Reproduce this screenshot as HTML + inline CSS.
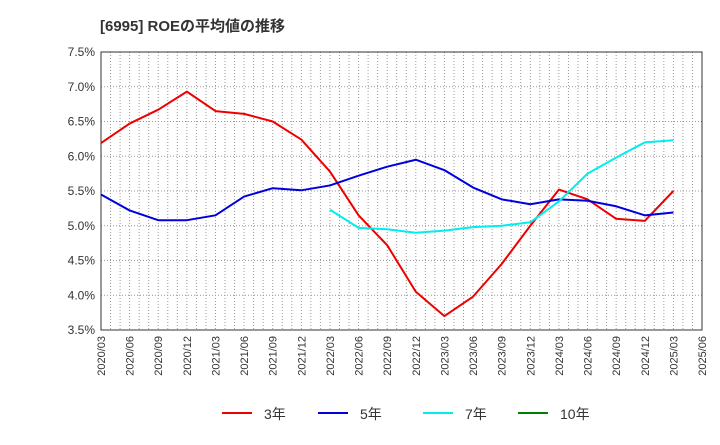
<!DOCTYPE html>
<html><head><meta charset="utf-8"><style>
body{margin:0;background:#fff;font-family:"Liberation Sans","Noto Sans CJK JP",sans-serif;}
</style></head><body>
<svg width="720" height="440" xmlns="http://www.w3.org/2000/svg" id="c" font-family="Liberation Sans, Noto Sans CJK JP, sans-serif">
<text x="100" y="31" font-size="15" font-weight="bold" fill="#333">[6995]  ROEの平均値の推移</text>
<g id="grid"></g><g id="axes"></g><g id="series"></g><g id="legend"></g>
</svg>
<script>
const xLabels=["2020/03","2020/06","2020/09","2020/12","2021/03","2021/06","2021/09","2021/12","2022/03","2022/06","2022/09","2022/12","2023/03","2023/06","2023/09","2023/12","2024/03","2024/06","2024/09","2024/12","2025/03","2025/06"];
const yTicks=[3.5,4.0,4.5,5.0,5.5,6.0,6.5,7.0,7.5];
const roe3=[6.19,6.47,6.67,6.93,6.65,6.61,6.50,6.24,5.78,5.15,4.72,4.05,3.70,3.98,4.45,5.00,5.52,5.38,5.10,5.07,5.50];
const roe5=[5.45,5.22,5.08,5.08,5.15,5.42,5.54,5.51,5.58,5.72,5.85,5.95,5.80,5.55,5.38,5.31,5.38,5.36,5.28,5.15,5.19];
const roe7=[5.23,4.97,4.95,4.90,4.93,4.98,5.00,5.05,5.35,5.75,5.98,6.20,6.23];
const roe7Start=8;
const roe10=[];
const L=101,R=702,T=52,B=330,ymin=3.5,ymax=7.5;
const NS="http://www.w3.org/2000/svg";
const xq=i=>L+(R-L)*i/(xLabels.length-1);
const xm=m=>L+(R-L)*m/63;
const y=v=>B-(v-ymin)/(ymax-ymin)*(B-T);
function mk(t,a,p){const e=document.createElementNS(NS,t);for(const k in a)e.setAttribute(k,a[k]);p.appendChild(e);return e;}
const g=document.getElementById('grid'),ax=document.getElementById('axes'),s=document.getElementById('series'),lg=document.getElementById('legend');
for(let m=1;m<63;m++){const l=mk('line',{x1:xm(m),x2:xm(m),y1:T,y2:B,stroke:'#999','stroke-dasharray':'1,2','stroke-width':1},g);

}
yTicks.forEach(v=>{const l=mk('line',{x1:L,x2:R,y1:y(v),y2:y(v),stroke:'#999','stroke-dasharray':'1,2','stroke-width':1},g);


const t=mk('text',{x:L-6,y:y(v)+4,'text-anchor':'end','font-size':12,fill:'#333'},ax);t.textContent=v.toFixed(1)+'%';

});
const fr=mk('rect',{x:L,y:T,width:R-L,height:B-T,fill:'none',stroke:'#333','stroke-width':1},ax);


xLabels.forEach((lb,i)=>{const t=mk('text',{transform:`translate(${xq(i)+4},${B+6}) rotate(-90)`,'text-anchor':'end','font-size':11,fill:'#333'},ax);t.textContent=lb;

});
function line(arr,start,col,name){if(!arr.length)return;const p=mk('polyline',{points:arr.map((v,i)=>xq(i+start)+','+y(v)).join(' '),fill:'none',stroke:col,'stroke-width':2,'stroke-linejoin':'round'},s);

}
line(roe3,0,'#ee0000','series-3yr');
line(roe5,0,'#0000dd','series-5yr');
line(roe7,roe7Start,'#00eeee','series-7yr');
line(roe10,0,'#008000','series-10yr');
[['3年','#ee0000',222],['5年','#0000dd',318],['7年','#00eeee',423],['10年','#008000',518]].forEach(([n,c,x])=>{
const gr=mk('g',{},lg);


mk('line',{x1:x,x2:x+30,y1:413,y2:413,stroke:c,'stroke-width':2},gr);
const t=mk('text',{x:x+42,y:419,'font-size':14,fill:'#333'},gr);t.textContent=n;});
</script>
</body></html>
